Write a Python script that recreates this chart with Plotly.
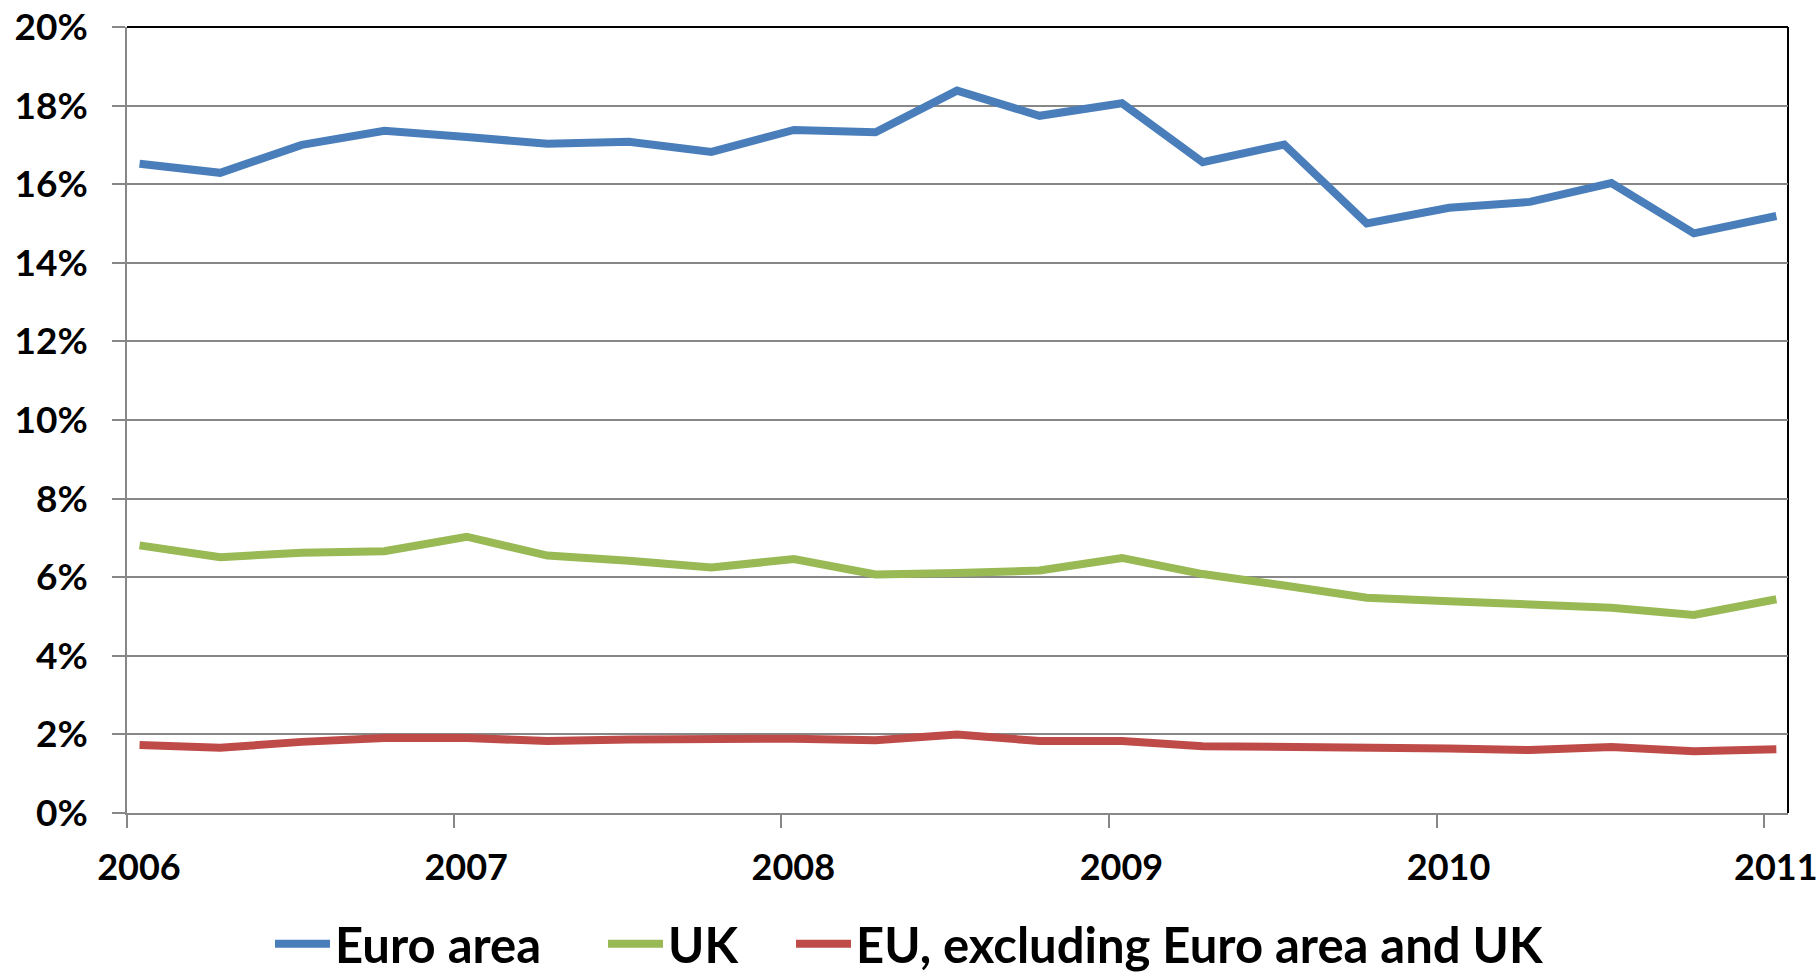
import plotly.graph_objects as go

quarters = [
    "2006-01-15", "2006-04-15", "2006-07-15", "2006-10-15",
    "2007-01-15", "2007-04-15", "2007-07-15", "2007-10-15",
    "2008-01-15", "2008-04-15", "2008-07-15", "2008-10-15",
    "2009-01-15", "2009-04-15", "2009-07-15", "2009-10-15",
    "2010-01-15", "2010-04-15", "2010-07-15", "2010-10-15",
    "2011-01-15",
]
euro_area = [16.52, 16.29, 17.00, 17.36, 17.20, 17.03, 17.08, 16.82, 17.38, 17.32,
             18.38, 17.74, 18.06, 16.56, 17.01, 15.00, 15.40, 15.55, 16.03, 14.75, 15.19]
uk = [6.81, 6.51, 6.62, 6.66, 7.03, 6.55, 6.42, 6.25, 6.46, 6.07,
      6.11, 6.17, 6.49, 6.08, 5.79, 5.48, 5.39, 5.30, 5.22, 5.04, 5.44]
eu_excl = [1.73, 1.66, 1.81, 1.91, 1.91, 1.83, 1.87, 1.89, 1.89, 1.85,
           2.00, 1.83, 1.83, 1.70, 1.69, 1.66, 1.64, 1.60, 1.68, 1.57, 1.62]
series_names = ["Euro area", "UK", "EU, excluding Euro area and UK"]
colors = ["#4A7EBB", "#98B954", "#BE4B48"]
legend_ids = ["legend", "legend2", "legend3"]
legend_x = [270, 603, 791]  # left edge of each legend entry, px

W, H = 1819, 976
FONT = "Lato"
fig = go.Figure()
for name, vals, col, lid in zip(series_names, [euro_area, uk, eu_excl], colors, legend_ids):
    fig.add_trace(go.Scatter(x=quarters, y=vals, mode="lines", name=name, legend=lid,
                             line=dict(color=col, width=8)))

legend_common = dict(orientation="h", xref="container", yref="container",
                     xanchor="left", yanchor="middle", y=32 / H,
                     font=dict(family=FONT, size=49, color="black", weight="bold"),
                     itemwidth=55, bgcolor="rgba(0,0,0,0)")
legends = {lid: dict(legend_common, x=lx / W) for lid, lx in zip(legend_ids, legend_x)}

grid = "#878787"
fig.update_layout(
    width=W, height=H,
    margin=dict(l=127, r=31, t=27, b=163),
    paper_bgcolor="white", plot_bgcolor="white",
    font=dict(family=FONT, color="black"),
    showlegend=True,
    xaxis=dict(type="date", range=["2006-01-01", "2011-01-28"],
               tick0="2006-01-01", dtick="M12", tickformat="%Y",
               showgrid=False, showline=True, linecolor=grid, linewidth=1.5,
               ticks="outside", ticklen=13, tickwidth=1.5, tickcolor=grid,
               tickfont=dict(family=FONT, size=36, color="black", weight="bold"),
               ticklabelshift=12, ticklabelstandoff=9, ticklabeloverflow="allow",
               zeroline=False, automargin=False),
    yaxis=dict(range=[0, 20], dtick=2, tick0=0, ticksuffix="%",
               showgrid=True, gridcolor=grid, gridwidth=1.5,
               showline=True, linecolor=grid, linewidth=1.5,
               ticks="outside", ticklen=13, tickwidth=1.5, tickcolor=grid,
               tickfont=dict(family=FONT, size=37, color="black", weight="bold"),
               ticklabelstandoff=17, zeroline=False, automargin=False),
    shapes=[
        dict(type="line", xref="paper", yref="paper", x0=0, x1=1, y0=1, y1=1,
             line=dict(color="black", width=2), layer="below"),
        dict(type="line", xref="paper", yref="paper", x0=1, x1=1, y0=0, y1=1,
             line=dict(color="black", width=2), layer="below"),
    ],
    **legends,
)

fig.write_html("out.html", config={"displayModeBar": False},
               post_script="document.body.style.margin='0';document.body.style.overflow='hidden';")
